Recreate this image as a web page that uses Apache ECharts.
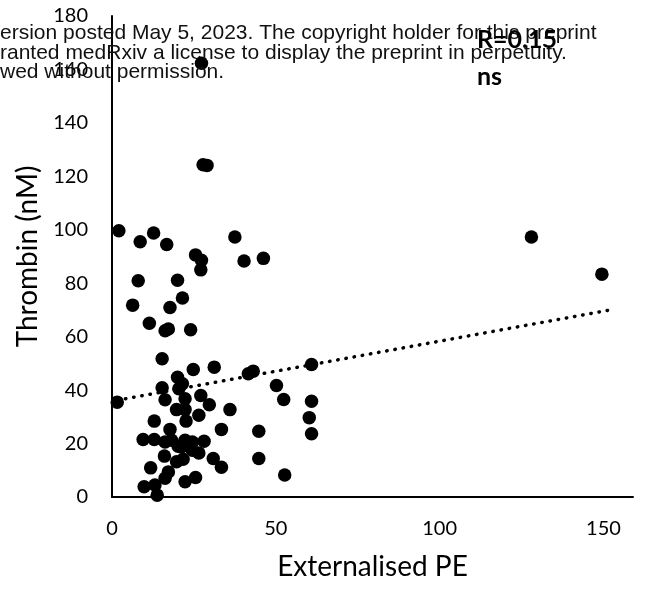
<!DOCTYPE html>
<html>
<head>
<meta charset="utf-8">
<title>Thrombin vs Externalised PE</title>
<script src="https://cdn.jsdelivr.net/npm/echarts@6.0.0/dist/echarts.min.js"></script>
<style>
  html,body{margin:0;padding:0;background:#fff;}
  #chart{width:645px;height:592px;}
</style>
</head>
<body>
<div id="chart"></div>
<script>
// values
const externalisedPE = [
  27.3, 27.8, 29.0, 2.1, 8.6, 12.7, 16.7, 37.5, 25.5, 27.3,
  27.1, 40.3, 46.2, 8.0, 20.0, 21.5, 6.3, 17.7, 11.4, 16.2,
  17.2, 24.0, 15.3, 24.8, 31.2, 20.0, 41.6, 43.1, 60.9, 1.6,
  15.3, 16.2, 21.5, 20.4, 22.3, 27.1, 29.7, 19.7, 22.3, 26.5,
  22.6, 36.0, 12.9, 33.4, 44.8, 50.2, 52.4, 60.9, 60.2, 60.9,
  44.8, 52.7, 17.7, 9.5, 12.9, 16.2, 18.2, 20.2, 22.3, 24.5,
  28.1, 26.5, 24.5, 16.0, 19.7, 21.7, 30.9, 33.4, 11.8, 17.2,
  16.2, 22.3, 25.5, 9.8, 13.1, 13.8, 128.0, 149.5, 21.2
];
const thrombin = [
  162.3, 124.3, 124.1, 99.6, 95.5, 98.8, 94.5, 97.3, 90.6, 88.6,
  85.0, 88.3, 89.3, 80.9, 81.1, 74.5, 71.8, 70.9, 65.0, 62.2,
  62.9, 62.6, 51.7, 47.7, 48.6, 44.8, 46.1, 47.1, 49.6, 35.5,
  40.9, 36.4, 42.4, 40.5, 36.8, 38.0, 34.5, 32.7, 32.7, 30.6,
  28.4, 32.7, 28.4, 25.3, 24.6, 41.7, 36.5, 35.8, 29.7, 23.7,
  14.4, 8.2, 25.3, 21.5, 21.5, 20.6, 21.2, 19.0, 21.2, 20.6,
  20.9, 16.5, 17.5, 15.3, 13.2, 14.1, 14.4, 11.1, 10.9, 9.4,
  7.0, 5.7, 7.3, 3.8, 4.5, 0.7, 97.3, 83.4, 18.7
];
// linear trendline end points (as drawn in the figure)
const trendX = [1.6, 153.4];
const trendY = [36.2, 70.3];

const yTicks = [0, 180, 20];   // min, max, step
const xTicks = [0, 159, 50];

const watermarkLines = [
  'ersion posted May 5, 2023. The copyright holder for this preprint',
  'ranted medRxiv a license to display the preprint in perpetuity.',
  'wed without permission.'
];
const statText = ['R=0.15', 'ns'];

const myChart = echarts.init(document.getElementById('chart'));

const axisFont = 'Lato, "Open Sans", sans-serif';

const option = {
  animation: false,
  grid: { left: 112, right: 12, top: 16, bottom: 95 },
  xAxis: {
    type: 'value',
    min: xTicks[0], max: xTicks[1], interval: xTicks[2],
    name: 'Externalised PE',
    nameLocation: 'middle',
    nameGap: 56,
    nameTextStyle: { fontFamily: axisFont, fontSize: 28, color: '#000' },
    axisLine: { show: true, onZero: false, lineStyle: { color: '#000', width: 2 } },
    axisTick: { show: false },
    splitLine: { show: false },
    axisLabel: { margin: 22, fontFamily: axisFont, fontSize: 20, color: '#000', showMaxLabel: false }
  },
  yAxis: {
    type: 'value',
    min: yTicks[0], max: yTicks[1], interval: yTicks[2],
    name: 'Thrombin (nM)',
    nameLocation: 'middle',
    nameGap: 70,
    nameTextStyle: { fontFamily: axisFont, fontSize: 28, color: '#000' },
    axisLine: { show: true, onZero: false, lineStyle: { color: '#000', width: 2 } },
    axisTick: { show: false },
    splitLine: { show: false },
    axisLabel: { margin: 24, fontFamily: axisFont, fontSize: 20, color: '#000' }
  },
  series: [
    {
      type: 'line',
      data: trendX.map((x, i) => [x, trendY[i]]),
      symbol: 'none',
      silent: true,
      lineStyle: { color: '#000', width: 3.5, type: [0.5, 7.8], cap: 'round' },
      z: 3
    },
    {
      type: 'scatter',
      data: externalisedPE.map((x, i) => [x, thrombin[i]]),
      symbol: 'circle',
      symbolSize: 13.5,
      itemStyle: { color: '#000', opacity: 1 },
      z: 4
    }
  ],
  graphic: [
    ...watermarkLines.map((t, i) => ({
      type: 'text',
      left: 0,
      top: 23 + i * 19.5,
      z: 100,
      style: { text: t, fill: '#111', font: '21px "Liberation Sans", Arial, sans-serif' }
    })),
    {
      type: 'text', left: 477, top: 27, z: 101,
      style: { text: statText[0], fill: '#000', font: 'bold 25px Lato, sans-serif' }
    },
    {
      type: 'text', left: 477, top: 64, z: 101,
      style: { text: statText[1], fill: '#000', font: 'bold 25px Lato, sans-serif' }
    }
  ]
};

myChart.setOption(option);
</script>
</body>
</html>
